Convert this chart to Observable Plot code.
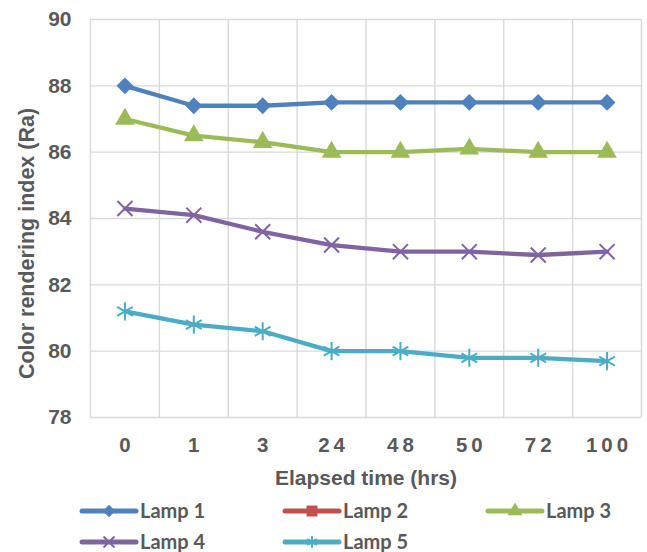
<!DOCTYPE html>
<html>
<head>
<meta charset="utf-8">
<script src="https://cdn.jsdelivr.net/npm/d3@7"></script>
<script src="https://cdn.jsdelivr.net/npm/@observablehq/plot@0.6"></script>
<style>
  body { margin: 0; background: #fff; }
  #wrap { position: relative; width: 647px; height: 552px; background: #fff; }
  #chart { position: absolute; left: 0; top: 0; }
  #legend { position: absolute; left: 0; top: 490px; }
</style>
</head>
<body>
<div id="wrap"><div id="chart"></div><svg id="legend" width="647" height="62"></svg></div>
<script>
// ---- data ----
const hours = ["0", "1", "3", "24", "48", "50", "72", "100"];
const lamp1 = [88.0, 87.4, 87.4, 87.5, 87.5, 87.5, 87.5, 87.5];
const lamp2 = [null, null, null, null, null, null, null, null];
const lamp3 = [87.0, 86.5, 86.3, 86.0, 86.0, 86.1, 86.0, 86.0];
const lamp4 = [84.3, 84.1, 83.6, 83.2, 83.0, 83.0, 82.9, 83.0];
const lamp5 = [81.2, 80.8, 80.6, 80.0, 80.0, 79.8, 79.8, 79.7];
const seriesNames = ["Lamp 1", "Lamp 2", "Lamp 3", "Lamp 4", "Lamp 5"];
const seriesColors = ["#4F81BD", "#C0504D", "#9BBB59", "#8064A2", "#4BACC6"];
const seriesSymbols = ["diamond2", "square", "triangle", "times", "asterisk"];
const yTicks = [78, 80, 82, 84, 86, 88, 90];
const xTitle = "Elapsed time (hrs)";
const yTitle = "Color rendering index (Ra)";

const seriesValues = [lamp1, lamp2, lamp3, lamp4, lamp5];
const rows = [];
seriesNames.forEach((name, s) => {
  seriesValues[s].forEach((v, i) => rows.push({series: name, s, i, hour: hours[i], value: v}));
});

const textColor = "#595959";
const gridColor = "#d9d9d9";
const markerStyle = {
  "diamond2": {r: 7.6, filled: true},
  "square": {r: 5.5, filled: true},
  "triangle": {r: 7.3, filled: true},
  "times": {r: 6.9, filled: false},
  "asterisk": {r: 8.6, filled: false}
};

const idx = d3.range(hours.length);
const bounds = d3.range(hours.length + 1).map(i => i - 0.5);

const marks = [
  Plot.gridY(yTicks, {stroke: gridColor, strokeOpacity: 1, strokeWidth: 1.4}),
  Plot.gridX(bounds, {stroke: gridColor, strokeOpacity: 1, strokeWidth: 1.4}),
  Plot.text(yTicks, {y: d => d, text: d => String(d), frameAnchor: "left", textAnchor: "end", dx: -19,
    fontSize: 21, fontWeight: "bold", fill: textColor}),
  Plot.axisX(idx, {tickSize: 0, tickPadding: 20, fontSize: 20.5, fontWeight: "bold", label: null,
    tickFormat: i => hours[i], fill: textColor}),
  Plot.text([yTitle], {frameAnchor: "left", textAnchor: "middle", lineAnchor: "middle", rotate: -90,
    dx: -63, dy: 25, fontSize: 21.5, fontWeight: "bold", fill: textColor}),
  Plot.text([xTitle], {frameAnchor: "bottom", lineAnchor: "middle", dy: 61, fontSize: 21, fontWeight: "bold", fill: textColor})
];

seriesNames.forEach((name, s) => {
  const data = rows.filter(d => d.s === s && d.value != null);
  marks.push(Plot.line(data, {x: "i", y: "value", stroke: seriesColors[s], strokeWidth: 4.3, curve: "linear"}));
});
seriesNames.forEach((name, s) => {
  const data = rows.filter(d => d.s === s && d.value != null);
  const col = seriesColors[s];
  const sym = seriesSymbols[s];
  const st = markerStyle[sym];
  marks.push(Plot.dot(data, st.filled
    ? {x: "i", y: "value", symbol: sym, r: st.r, fill: col, stroke: "none"}
    : {x: "i", y: "value", symbol: sym, r: st.r, fill: "none", stroke: col, strokeWidth: 2}));
});

const chart = Plot.plot({
  width: 647,
  height: 490,
  marginTop: 19,
  marginBottom: 73,
  marginLeft: 90,
  marginRight: 6,
  style: {fontFamily: "'Liberation Sans', Arial, sans-serif", background: "#fff", color: textColor, overflow: "visible"},
  x: {type: "linear", domain: [-0.5, hours.length - 0.5], axis: null},
  y: {domain: [78, 90], axis: null},
  marks
});
document.getElementById("chart").appendChild(chart);

// letter spacing on x tick labels
d3.select(chart).selectAll('g[aria-label="x-axis tick label"] text')
  .attr("letter-spacing", "4px").attr("dx", 2);

// ---- legend ----
const leg = d3.select("#legend");
const colX = [82, 285, 488];
const rowY = [21, 52];
const legendSym = {
  "diamond2": {size: 100, filled: true},
  "square": {size: 120, filled: true},
  "triangle": {size: 95, filled: true},
  "times": {size: 80, filled: false},
  "asterisk": {size: 90, filled: false}
};
const symMap = {diamond2: d3.symbolDiamond2, square: d3.symbolSquare, triangle: d3.symbolTriangle, times: d3.symbolTimes, asterisk: d3.symbolAsterisk};
seriesNames.forEach((name, s) => {
  const x0 = colX[s % 3], y0 = rowY[Math.floor(s / 3)];
  const g = leg.append("g").attr("transform", `translate(${x0},${y0})`);
  g.append("line").attr("x1", 0).attr("x2", 54).attr("y1", 0).attr("y2", 0)
    .attr("stroke", seriesColors[s]).attr("stroke-width", 5).attr("stroke-linecap", "round");
  const sd = legendSym[seriesSymbols[s]];
  g.append("path").attr("transform", "translate(27,0)")
    .attr("d", d3.symbol(symMap[seriesSymbols[s]], sd.size)())
    .attr("fill", sd.filled ? seriesColors[s] : "none")
    .attr("stroke", sd.filled ? "none" : seriesColors[s]).attr("stroke-width", 2);
  g.append("text").attr("x", 58).attr("y", 0).attr("dy", "0.35em")
    .attr("font-family", "Lato, 'Open Sans', sans-serif").attr("font-weight", 700)
    .attr("font-size", 20).attr("fill", textColor).text(name);
});
</script>
</body>
</html>
